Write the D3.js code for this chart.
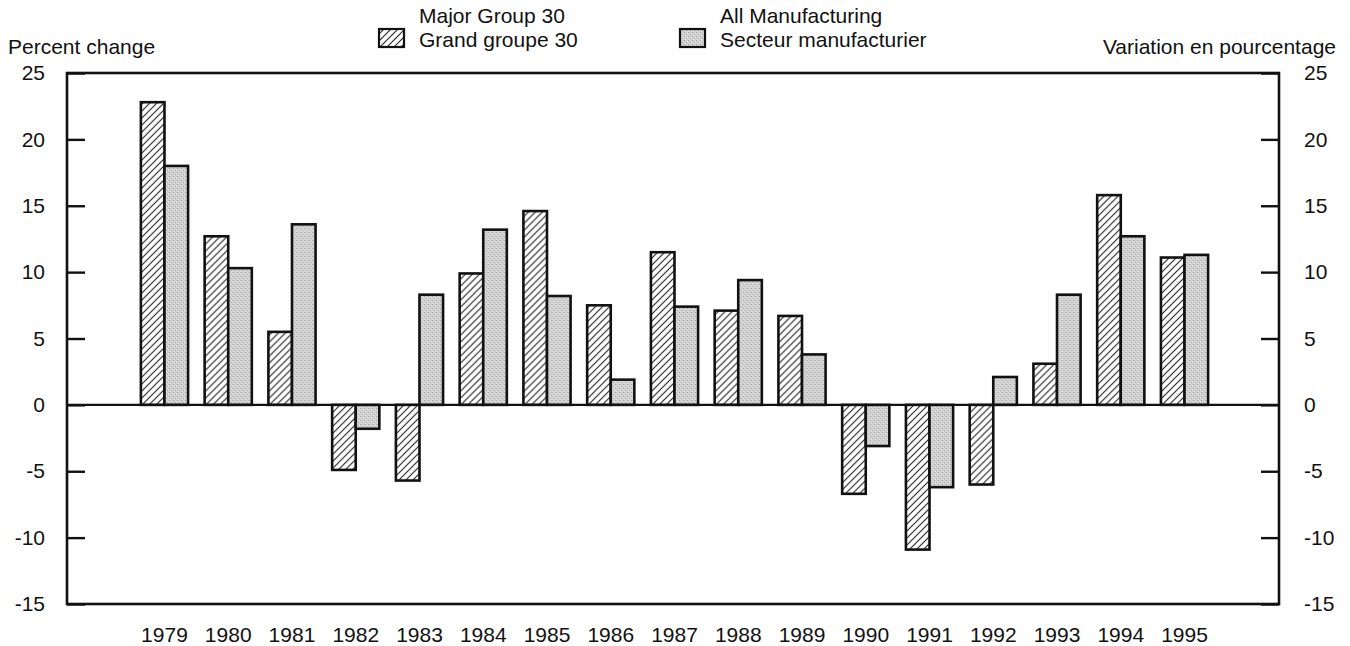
<!DOCTYPE html>
<html>
<head>
<meta charset="utf-8">
<script src="https://cdn.jsdelivr.net/npm/d3@7"></script>
<style>
  html, body { margin: 0; padding: 0; background: #fff; }
  svg text { font-family: "Liberation Sans", Arial, Helvetica, sans-serif; fill: #111; }
</style>
</head>
<body>
<svg id="chart" width="1350" height="646"></svg>
<script>
const years = ["1979","1980","1981","1982","1983","1984","1985","1986","1987","1988","1989","1990","1991","1992","1993","1994","1995"];
const group30 = [22.8, 12.7, 5.5, -4.9, -5.7, 9.9, 14.6, 7.5, 11.5, 7.1, 6.7, -6.7, -10.9, -6.0, 3.1, 15.8, 11.1];
const allMfg  = [18.0, 10.3, 13.6, -1.8, 8.3, 13.2, 8.2, 1.9, 7.4, 9.4, 3.8, -3.1, -6.2, 2.1, 8.3, 12.7, 11.3];
const yTicks = [-15, -10, -5, 0, 5, 10, 15, 20, 25];
const seriesKeys = ["g30", "all"];
const legendLines = [["Major Group 30", "Grand groupe 30"], ["All Manufacturing", "Secteur manufacturier"]];
const axisTitles = ["Percent change", "Variation en pourcentage"];

const svg = d3.select("#chart");
const L = 67, R = 1279, T = 73, B = 604;
const FS = 21;

const defs = svg.append("defs");
const hatch = defs.append("pattern").attr("id", "hatch").attr("patternUnits", "userSpaceOnUse")
  .attr("width", 7).attr("height", 7);
hatch.append("rect").attr("width", 7).attr("height", 7).attr("fill", "#fff");
hatch.append("path").attr("d", "M-1,1 l2,-2 M0,7 l7,-7 M6,8 l2,-2")
  .attr("stroke", "#222").attr("stroke-width", 1.1);

const dots = defs.append("pattern").attr("id", "stip").attr("patternUnits", "userSpaceOnUse")
  .attr("width", 4).attr("height", 4);
dots.append("rect").attr("width", 4).attr("height", 4).attr("fill", "#d2d2d2");
dots.append("rect").attr("x", 0).attr("y", 0).attr("width", 1).attr("height", 1).attr("fill", "#9c9c9c");
dots.append("rect").attr("x", 2).attr("y", 2).attr("width", 1).attr("height", 1).attr("fill", "#aaaaaa");
dots.append("rect").attr("x", 3).attr("y", 1).attr("width", 1).attr("height", 1).attr("fill", "#e8e8e8");
dots.append("rect").attr("x", 1).attr("y", 3).attr("width", 1).attr("height", 1).attr("fill", "#e4e4e4");

const fills = { g30: "url(#hatch)", all: "url(#stip)" };

const x = d3.scaleBand().domain(years).range([132.6, 1216.4]).paddingInner(0.26).paddingOuter(0.13);
const xs = d3.scaleBand().domain(seriesKeys).range([0, x.bandwidth()]);
const y = d3.scaleLinear().domain([-15, 25]).range([B, T]);

const data = years.map((yr, i) => ({ year: yr, g30: group30[i], all: allMfg[i] }));

// bars
const groups = svg.append("g").selectAll("g").data(data).join("g")
  .attr("transform", d => `translate(${x(d.year)},0)`);
groups.selectAll("rect").data(d => seriesKeys.map(k => ({ k, v: d[k] }))).join("rect")
  .attr("x", d => xs(d.k))
  .attr("width", xs.bandwidth())
  .attr("y", d => y(Math.max(0, d.v)))
  .attr("height", d => Math.abs(y(d.v) - y(0)))
  .attr("fill", d => fills[d.k])
  .attr("stroke", "#111").attr("stroke-width", 2.6);

// zero line
svg.append("line").attr("x1", L).attr("x2", R).attr("y1", y(0)).attr("y2", y(0))
  .attr("stroke", "#111").attr("stroke-width", 2.4);

// axes
const fmt = d => String(d);
const leftAxis = d3.axisLeft(y).tickValues(yTicks).tickFormat(fmt).tickSizeInner(-18).tickSizeOuter(0).tickPadding(22);
const rightAxis = d3.axisRight(y).tickValues(yTicks).tickFormat(fmt).tickSizeInner(-18).tickSizeOuter(0).tickPadding(25);
const gl = svg.append("g").attr("transform", `translate(${L},0)`).call(leftAxis);
const gr = svg.append("g").attr("transform", `translate(${R},0)`).call(rightAxis);
[gl, gr].forEach(g => {
  g.select(".domain").remove();
  g.selectAll(".tick line").attr("stroke", "#111").attr("stroke-width", 2.4);
  g.selectAll(".tick text").attr("font-size", FS).attr("font-family", "Liberation Sans, Arial, sans-serif").attr("fill", "#111");
});

const xAxis = d3.axisBottom(x).tickSize(0).tickPadding(23);
const gx = svg.append("g").attr("transform", `translate(0,${B})`).call(xAxis);
gx.select(".domain").remove();
gx.selectAll(".tick text").attr("font-size", FS).attr("font-family", "Liberation Sans, Arial, sans-serif").attr("fill", "#111");

// frame
svg.append("rect").attr("x", L).attr("y", T).attr("width", R - L).attr("height", B - T)
  .attr("fill", "none").attr("stroke", "#111").attr("stroke-width", 2.6);

// axis titles
svg.append("text").attr("x", 8).attr("y", 54).attr("font-size", FS).text(axisTitles[0]);
svg.append("text").attr("x", 1336).attr("y", 54).attr("font-size", FS).attr("text-anchor", "end").text(axisTitles[1]);

// legend
const legendX = [379, 680];
const legend = svg.append("g");
seriesKeys.forEach((k, i) => {
  legend.append("rect").attr("x", legendX[i]).attr("y", 29).attr("width", 25).attr("height", 18)
    .attr("fill", fills[k]).attr("stroke", "#111").attr("stroke-width", 2.2);
  legendLines[i].forEach((t, j) => {
    legend.append("text").attr("x", legendX[i] + 40).attr("y", 23 + j * 24).attr("font-size", FS).text(t);
  });
});
</script>
</body>
</html>
